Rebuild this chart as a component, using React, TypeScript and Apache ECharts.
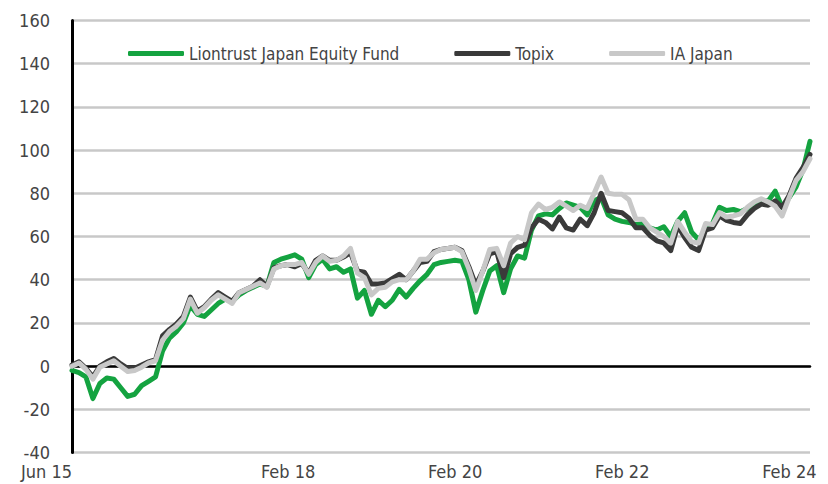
import React, { useEffect, useRef } from "react";
import * as echarts from "echarts";

// Monthly cumulative performance (%), month-ends from Jun 2015 to Apr 2024
const START_YEAR = 2015;
const START_MONTH_INDEX = 5; // June (0-based)

const fund = [
  -2, -3, -5, -15, -8, -5.5, -6, -10, -14, -13, -9, -7, -5, 7, 13, 16, 20, 28, 24, 23,
  26, 29, 31, 30, 33, 35, 36.5, 38, 37, 48, 49.5, 50.5, 51.5, 49.5, 41, 47, 49.5, 45, 46, 43.5,
  45, 31.5, 35, 24, 30.5, 27.5, 30.5, 35.5, 32, 36, 39.5, 42.5, 47, 48, 48.5, 49, 48.5, 40, 25, 35,
  44, 46.5, 34, 45, 51, 50, 63, 69.5, 70.5, 70, 73, 75.5, 74.5, 73.5, 70, 76.5, 78, 70, 68, 67,
  66.5, 65.5, 66, 64, 63, 64.5, 60, 67, 71, 62, 58.5, 63, 66, 73.5, 72, 72.5, 71.5, 73, 75.5, 76.5,
  76.5, 81, 73.5, 78, 83, 91, 104,
];

const topix = [
  0.5, 2, -1, -5, 0, 2, 3.5, 1, -1, -1, 0.5, 2, 3, 14, 17, 19.5, 23, 32, 25.5, 27.5,
  31, 34, 32, 30, 34, 35.5, 37, 40, 37, 45.5, 46.5, 47, 46, 47.5, 43, 49, 51, 49, 49, 50.5,
  52.5, 44, 43.5, 38, 38, 38.5, 40.5, 42.5, 40, 44, 48, 48.5, 53, 54, 54.5, 55, 53.5, 46, 37.5, 44,
  52, 53, 41, 52, 55, 56, 64, 68, 66.5, 63.5, 69, 64, 63, 68, 65, 71, 80, 72, 71.5, 71,
  68.5, 64, 64, 60.5, 58, 57, 53.5, 65, 59.5, 55, 53.5, 63, 64, 69.5, 67.5, 66.5, 66, 70, 73, 75,
  74.5, 76.5, 73.5, 79, 87, 92, 98,
];

const iaJapan = [
  0, 1.5, -1.5, -6, -0.5, 1, 2.5, 0, -2.5, -2, -0.5, 1.5, 2.5, 12, 16, 18.5, 22, 31, 24.5, 27,
  30.5, 33, 31, 29, 34, 35.5, 37, 38.5, 36.5, 45, 46.5, 47, 47, 48, 42.5, 48, 51, 48.5, 49, 51,
  54.5, 43, 41, 33, 36, 36.5, 39, 40, 40, 44, 49.5, 49.5, 52.5, 54, 54.5, 55, 53, 45, 35, 44,
  54, 54.5, 46.5, 57, 60, 58.5, 71, 75, 72.5, 73.5, 76, 74, 72, 74.5, 73, 80, 87.5, 80, 79.5, 79.5,
  77, 68, 68, 64, 62, 60, 57, 67, 62, 57.5, 57, 66, 65.5, 71, 69, 69.5, 70.5, 73.5, 76, 77.5,
  76, 74, 69.5, 78, 86, 90, 96,
];

const seriesNames = ["Liontrust Japan Equity Fund", "Topix", "IA Japan"];
const seriesColors = ["#14a340", "#3a3a3a", "#c8c8c8"];

const tickDates = ["2015-06-30", "2018-02-01", "2020-02-01", "2022-02-01", "2024-02-01"];
const tickLabels = ["Jun 15", "Feb 18", "Feb 20", "Feb 22", "Feb 24"];

const Y_MIN = -40;
const Y_MAX = 160;
const Y_STEP = 20;

const FONT = "'Liberation Sans Narrow', 'Arial Narrow', 'DejaVu Sans Condensed', sans-serif";
const TEXT_COLOR = "#444444";
const AXIS_FONT_SIZE = 18;
const LEGEND_FONT_SIZE = 17;

// position of a date in "months since the first month-end" (month-end i -> i)
function datePos(s: string): number {
  const [y, m, d] = s.split("-").map(Number);
  const prevMonthEndIdx = (y - START_YEAR) * 12 + (m - 1) - START_MONTH_INDEX - 1;
  const daysInMonth = new Date(Date.UTC(y, m, 0)).getUTCDate();
  return prevMonthEndIdx + d / daysInMonth;
}

export default function App() {
  const ref = useRef<HTMLDivElement>(null);

  useEffect(() => {
    if (!ref.current) return;
    const chart = echarts.init(ref.current, undefined, { renderer: "svg" });
    const tickPos = tickDates.map(datePos);
    const toPairs = (arr: number[]) => arr.map((v, i) => [i, v]);
    const all = [fund, topix, iaJapan];
    const xMax = fund.length - 1;

    chart.setOption({
      animation: false,
      backgroundColor: "#ffffff",
      textStyle: { fontFamily: FONT },
      grid: {
        left: 72,
        right: 18,
        top: 20.4,
        bottom: 31.4,
        containLabel: false,
        outerBoundsMode: "none",
      },
      legend: {
        data: seriesNames,
        left: 123,
        top: 40,
        icon: "roundRect",
        itemWidth: 56,
        itemHeight: 5,
        itemGap: 55,
        textStyle: { fontFamily: FONT, fontSize: LEGEND_FONT_SIZE, color: TEXT_COLOR },
      },
      xAxis: [
        {
          type: "value",
          min: 0,
          max: xMax,
          position: "bottom",
          axisLine: { show: true, onZero: true, lineStyle: { color: "#000000", width: 2.5 } },
          axisTick: { show: false },
          axisLabel: { show: false },
          splitLine: { show: false },
        },
        {
          type: "value",
          min: 0,
          max: xMax,
          position: "bottom",
          axisLine: { show: false, onZero: false },
          axisTick: { show: false },
          splitLine: { show: false },
          axisLabel: {
            show: true,
            customValues: tickPos,
            fontFamily: FONT,
            fontSize: AXIS_FONT_SIZE,
            color: TEXT_COLOR,
            margin: 10,
            alignMinLabel: "right",
            formatter: (value: number) => {
              let best = 0;
              for (let k = 1; k < tickPos.length; k++) {
                if (Math.abs(tickPos[k] - value) < Math.abs(tickPos[best] - value)) best = k;
              }
              return tickLabels[best];
            },
          },
        },
      ],
      yAxis: {
        type: "value",
        min: Y_MIN,
        max: Y_MAX,
        interval: Y_STEP,
        axisLine: { show: true, onZero: false, lineStyle: { color: "#000000", width: 3 } },
        axisTick: { show: false },
        axisLabel: { fontFamily: FONT, fontSize: AXIS_FONT_SIZE, color: TEXT_COLOR, margin: 22 },
        splitLine: { show: true, lineStyle: { color: "#c8c8c8", width: 2.5 } },
      },
      series: seriesNames.map((name, k) => ({
        name,
        type: "line",
        xAxisIndex: 0,
        data: toPairs(all[k]),
        showSymbol: false,
        symbol: "none",
        color: seriesColors[k],
        lineStyle: { color: seriesColors[k], width: 5, join: "round", cap: "round" },
        z: 2 + k,
      })),
    });

    return () => chart.dispose();
  }, []);

  return (
    <div
      ref={ref}
      style={{ position: "fixed", left: 0, top: 0, width: 828, height: 484, background: "#fff" }}
    />
  );
}
